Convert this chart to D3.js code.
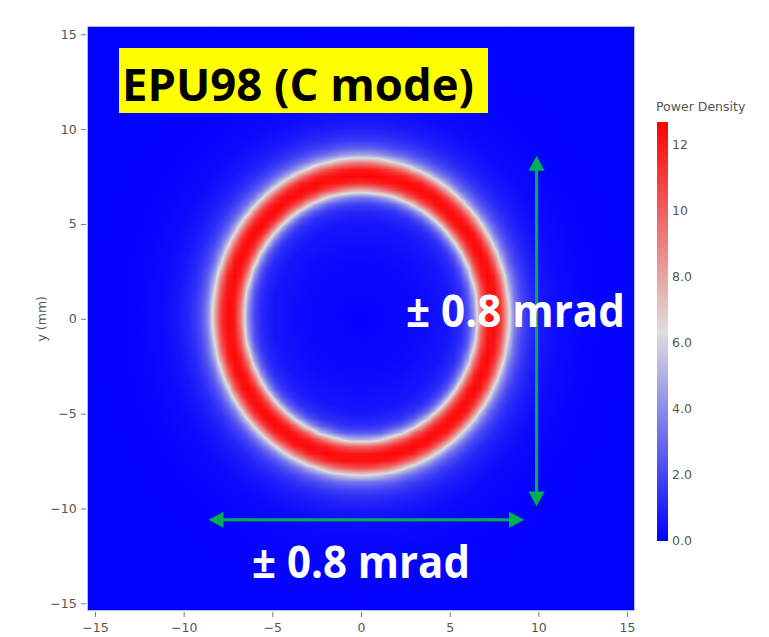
<!DOCTYPE html>
<html>
<head>
<meta charset="utf-8">
<script src="https://cdn.jsdelivr.net/npm/d3@7/dist/d3.min.js"></script>
<style>
  html, body { margin: 0; padding: 0; background: #fff; }
  svg { display: block; }
</style>
</head>
<body>
<svg id="chart" width="769" height="637"></svg>
<script>
// ---- data ----
// radial profile of the power density around the ring centre
const radiusMM     = [0,   3,    5,   5.8, 6.2, 6.5, 6.8, 7.1,  7.45, 7.8,  8.1, 8.4, 8.7, 9.1, 9.6, 10.3, 11.2, 12.5, 16,   22];
const powerDensity = [0.1, 0.25, 0.6, 1.3, 2.7, 5.3, 9.5, 11.9, 12.6, 11.9, 9.5, 5.8, 3.4, 2.0, 1.15, 0.62, 0.3, 0.15, 0.05, 0.02];
const ringCenter   = [0, 0.1];          // mm
const gridStep     = 0.375;             // mm, sampling of the heatmap
const extent       = 15.375;            // mm, half-width of the heatmap area
const xTicks       = [-15, -10, -5, 0, 5, 10, 15];
const yTicks       = [-15, -10, -5, 0, 5, 10, 15];
const cbTicks      = [0, 2, 4, 6, 8, 10, 12];
const zMax         = 12.7;
const titleText    = "EPU98 (C mode)";
const annotV       = "± 0.8 mrad";
const annotH       = "± 0.8 mrad";
const arrowH       = {x0: -8.6, x1: 9.2, y: -10.6};   // mm
const arrowV       = {x: 9.9, y0: -9.9, y1: 8.6};     // mm

// ---- scales ----
const x = d3.scaleLinear().domain([-15, 15]).range([95, 627]);
const y = d3.scaleLinear().domain([-15, 15]).range([603.3, 34.3]);
const color = d3.scaleLinear().domain([0, zMax / 2, zMax])
  .range(["rgb(0,0,255)", "rgb(222,222,222)", "rgb(255,0,0)"]).clamp(true);
const cb = d3.scaleLinear().domain([0, zMax]).range([541, 122]);

const svg = d3.select("#chart");
const fmt = v => (v < 0 ? "\u2212" + Math.abs(v) : "" + v);

// ---- grid values from the radial profile ----
const n = Math.round(2 * extent / gridStep) + 1;
const gx = d3.range(n).map(i => -extent + i * gridStep);
const prof = d3.scaleLinear().domain(radiusMM).range(powerDensity).clamp(true);
const Z = gx.map(yy => gx.map(xx => prof(Math.hypot(xx - ringCenter[0], yy - ringCenter[1]))));

// ---- heatmap rendered to an image (bilinear on values) ----
const px0 = Math.round(x(-extent)), px1 = Math.round(x(extent));
const py0 = Math.round(y(extent)), py1 = Math.round(y(-extent));
const W = px1 - px0, H = py1 - py0;
const canvas = document.createElement("canvas");
canvas.width = W; canvas.height = H;
const ctx = canvas.getContext("2d");
const img = ctx.createImageData(W, H);
for (let j = 0; j < H; j++) {
  const yv = y.invert(py0 + j + 0.5);
  let fj = (yv + extent) / gridStep; fj = Math.max(0, Math.min(n - 1.0001, fj));
  const j0 = Math.floor(fj), tj = fj - j0;
  for (let i = 0; i < W; i++) {
    const xv = x.invert(px0 + i + 0.5);
    let fi = (xv + extent) / gridStep; fi = Math.max(0, Math.min(n - 1.0001, fi));
    const i0 = Math.floor(fi), ti = fi - i0;
    const z = (Z[j0][i0] * (1 - ti) + Z[j0][i0 + 1] * ti) * (1 - tj) +
              (Z[j0 + 1][i0] * (1 - ti) + Z[j0 + 1][i0 + 1] * ti) * tj;
    const c = d3.rgb(color(z));
    const k = (j * W + i) * 4;
    img.data[k] = c.r; img.data[k + 1] = c.g; img.data[k + 2] = c.b; img.data[k + 3] = 255;
  }
}
ctx.putImageData(img, 0, 0);
svg.append("image").attr("x", px0).attr("y", py0).attr("width", W).attr("height", H)
  .attr("href", canvas.toDataURL());
svg.append("rect").attr("x", px0 - 0.5).attr("y", py0 - 0.5).attr("width", W + 1).attr("height", H + 1)
  .attr("fill", "none").attr("stroke", "#b8bce8").attr("stroke-width", 1);

// ---- axes ----
const tickColor = "#555";
const xAxis = svg.append("g").attr("transform", `translate(0,${py1 + 2})`)
  .call(d3.axisBottom(x).tickValues(xTicks).tickSize(5).tickSizeOuter(0).tickFormat(fmt));
const yAxis = svg.append("g").attr("transform", `translate(${px0 - 2},0)`)
  .call(d3.axisLeft(y).tickValues(yTicks).tickSize(5).tickSizeOuter(0).tickFormat(fmt));
[xAxis, yAxis].forEach(g => {
  g.select(".domain").remove();
  g.selectAll(".tick line").attr("stroke", "#777");
  g.selectAll(".tick text").attr("fill", tickColor)
    .style("font-family", "'DejaVu Sans', Verdana, sans-serif").style("font-size", "12.5px");
});
xAxis.selectAll(".tick text").attr("dy", "0.95em");
yAxis.selectAll(".tick text").attr("dx", "-0.1em");

svg.append("text").attr("transform", `translate(46,${y(0)}) rotate(-90)`)
  .attr("text-anchor", "middle").attr("fill", tickColor)
  .style("font-family", "'DejaVu Sans', Verdana, sans-serif").style("font-size", "12.5px")
  .text("y (mm)");

// ---- colorbar ----
const defs = svg.append("defs");
const grad = defs.append("linearGradient").attr("id", "cbgrad")
  .attr("x1", 0).attr("y1", 1).attr("x2", 0).attr("y2", 0);
d3.range(0, 1.0001, 0.05).forEach(t => {
  grad.append("stop").attr("offset", t).attr("stop-color", color(t * zMax));
});
svg.append("rect").attr("x", 657).attr("y", cb(zMax)).attr("width", 11)
  .attr("height", cb(0) - cb(zMax)).attr("fill", "url(#cbgrad)");
svg.append("g").selectAll("text").data(cbTicks).join("text")
  .attr("x", 672).attr("y", d => cb(d)).attr("dy", "0.35em")
  .attr("fill", tickColor)
  .style("font-family", "'DejaVu Sans', Verdana, sans-serif").style("font-size", "12.5px")
  .text(d => d >= 10 ? d3.format("d")(d) : d3.format(".1f")(d));
svg.append("text").attr("x", 656).attr("y", 111).attr("fill", tickColor)
  .style("font-family", "'DejaVu Sans', Verdana, sans-serif").style("font-size", "12.5px")
  .text("Power Density");

// ---- annotations ----
svg.append("rect").attr("x", 119).attr("y", 48).attr("width", 369).attr("height", 65).attr("fill", "#ffff00");
svg.append("text").attr("x", 122).attr("y", 101).attr("fill", "#000")
  .style("font-family", "'Open Sans', sans-serif").style("font-weight", 700).style("font-size", "44px")
  .attr("textLength", 352).attr("lengthAdjust", "spacingAndGlyphs")
  .text(titleText);

const green = "#00b050";
function arrowHead(tx, ty, ang) {   // tip at (tx,ty), pointing at angle ang (radians)
  const L = 15, Wd = 8;
  const bx = tx - L * Math.cos(ang), by = ty - L * Math.sin(ang);
  const nx = -Math.sin(ang) * Wd, ny = Math.cos(ang) * Wd;
  svg.append("path").attr("d", `M${tx},${ty}L${bx + nx},${by + ny}L${bx - nx},${by - ny}Z`).attr("fill", green);
}
// horizontal arrow
svg.append("line").attr("x1", x(arrowH.x0) + 10).attr("x2", x(arrowH.x1) - 10)
  .attr("y1", y(arrowH.y)).attr("y2", y(arrowH.y)).attr("stroke", green).attr("stroke-width", 3);
arrowHead(x(arrowH.x0), y(arrowH.y), Math.PI);
arrowHead(x(arrowH.x1), y(arrowH.y), 0);
// vertical arrow
svg.append("line").attr("x1", x(arrowV.x)).attr("x2", x(arrowV.x))
  .attr("y1", y(arrowV.y1) + 10).attr("y2", y(arrowV.y0) - 10).attr("stroke", green).attr("stroke-width", 3);
arrowHead(x(arrowV.x), y(arrowV.y1), -Math.PI / 2);
arrowHead(x(arrowV.x), y(arrowV.y0), Math.PI / 2);

const annStyle = s => s.attr("fill", "#fff")
  .style("font-family", "'Open Sans', sans-serif").style("font-weight", 700).style("font-size", "44px");
svg.append("text").attr("x", 406).attr("y", 327).call(annStyle)
  .attr("textLength", 219).attr("lengthAdjust", "spacingAndGlyphs").text(annotV);
svg.append("text").attr("x", 252).attr("y", 578).call(annStyle)
  .attr("textLength", 218).attr("lengthAdjust", "spacingAndGlyphs").text(annotH);
</script>
</body>
</html>
